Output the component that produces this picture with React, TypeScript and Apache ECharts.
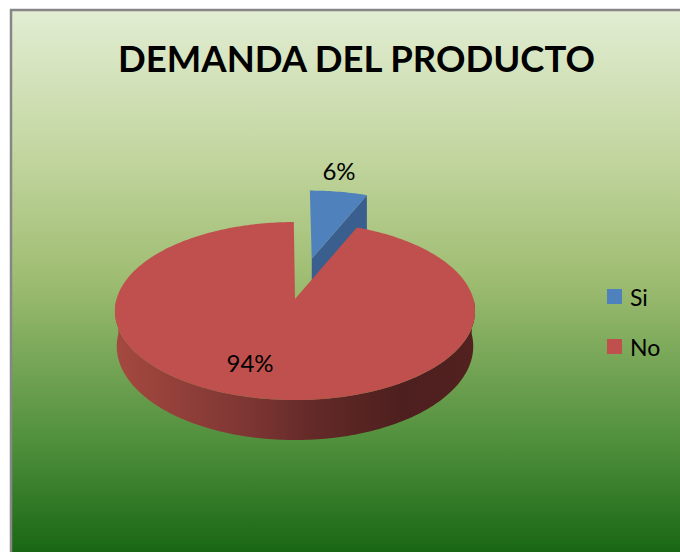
import React, { useEffect, useRef } from "react";
import * as echarts from "echarts";

const titleText = "DEMANDA DEL PRODUCTO";
const categories = ["Si", "No"];
const values = [6, 94];
const topColors = ["#4f81bd", "#c0504d"];
const cutColors = ["#3a5f8e", "#7a3230"];
const explode = [0.5, 0];
const labelAt = [
  [339, 170],
  [250, 362],
];

const CX = 295, CY = 299, RX = 178.4, RY = 87.4, K = 0.135, DEPTH = 40, WARP = 1.07;
const total = values.reduce((a, b) => a + b, 0);
const rad = (d: number) => (d * Math.PI) / 180;
const warp = (d: number) => Math.atan2(WARP * Math.sin(rad(d)), Math.cos(rad(d)));

function project(u: number, v: number) {
  const w = 1 + K * v * -1;
  return { x: CX + (RX * u) / w, y: CY + (RY * v) / w, w };
}
function ringPoint(deg: number, ou: number, ov: number) {
  const t = warp(deg);
  return project(ou + Math.sin(t), ov - Math.cos(t));
}
function drop(p: { x: number; y: number; w: number }) {
  const s = (DEPTH * (1 - K)) / p.w;
  return [CX + (p.x - CX) * 0.99, p.y + s];
}

function renderSlice(index: number) {
  return (_params: any, api: any) => {
    const value = api.value(0);
    let start = 0;
    for (let i = 0; i < index; i++) start += (values[i] / total) * 360;
    const end = start + (value / total) * 360;
    const mid = warp((start + end) / 2);
    const ou = explode[index] * Math.sin(mid);
    const ov = -explode[index] * Math.cos(mid);
    const apex = project(ou, ov);
    const arc: any[] = [];
    for (let a = start; a <= end + 1e-6; a += 1) arc.push(ringPoint(a, ou, ov));
    const top = [[apex.x, apex.y], ...arc.map((p) => [p.x, p.y])];
    const children: any[] = [];

    if (index === 0) {
      const last = arc[arc.length - 1];
      children.push({
        type: "polygon",
        shape: { points: [[apex.x, apex.y], [last.x, last.y], [last.x, last.y + DEPTH], [apex.x, apex.y + DEPTH]] },
        style: { fill: cutColors[index] },
      });
    } else {
      const upper: number[][] = [];
      const lower: number[][] = [];
      for (let a = 90; a <= 270; a += 1) {
        const p = ringPoint(a, ou, ov);
        upper.push([p.x, p.y]);
        lower.unshift(drop(p));
      }
      children.push({
        type: "polygon",
        shape: { points: [...upper, ...lower] },
        style: {
          fill: {
            type: "linear", x: 0, y: 0, x2: 1, y2: 0,
            colorStops: [
              { offset: 0, color: "#a5493f" },
              { offset: 0.38, color: "#7c3533" },
              { offset: 0.55, color: "#632a28" },
              { offset: 0.8, color: "#4d1f1e" },
              { offset: 1, color: "#522120" },
            ],
          },
        },
      });
    }
    children.push({ type: "polygon", shape: { points: top }, style: { fill: topColors[index] } });
    children.push({
      type: "text",
      x: labelAt[index][0],
      y: labelAt[index][1],
      z2: 10,
      style: {
        text: Math.round((value / total) * 100) + "%",
        fill: "#000",
        font: "24px Lato",
        align: "center",
        verticalAlign: "middle",
      },
    });
    return { type: "group", children };
  };
}

export default function App() {
  const ref = useRef<HTMLDivElement>(null);
  useEffect(() => {
    document.body.style.margin = "0";
    const chart = echarts.init(ref.current!, null, { renderer: "svg" });
    chart.setOption({
      animation: false,
      backgroundColor: "#ffffff",
      graphic: [
        {
          type: "rect",
          z: -10,
          shape: { x: 11, y: 10, width: 700, height: 570 },
          style: {
            stroke: "#868686",
            lineWidth: 2.5,
            fill: {
              type: "linear", x: 0, y: 0, x2: 0, y2: 1,
              global: false,
              colorStops: [
                { offset: 0, color: "#e2edd3" },
                { offset: 0.25, color: "#c3d6a0" },
                { offset: 0.47, color: "#9fbd72" },
                { offset: 0.76, color: "#4f8f3c" },
                { offset: 0.95, color: "#196714" },
                { offset: 1, color: "#196714" },
              ],
            },
          },
        },
      ],
      title: {
        text: titleText,
        left: 351.5,
        top: 34,
        textAlign: "center",
        textStyle: { fontFamily: "Lato", fontWeight: "bold", fontSize: 36.5, color: "#000" },
      },
      legend: {
        orient: "vertical",
        left: 602,
        top: 280,
        itemWidth: 15,
        itemHeight: 15,
        itemGap: 27,
        data: categories,
        icon: "rect",
        selectedMode: false,
        textStyle: { fontFamily: "Lato", fontSize: 23, color: "#000", padding: [0, 0, 0, 3] },
      },
      series: categories.map((name, i) => ({
        type: "custom",
        name,
        coordinateSystem: "none",
        silent: true,
        clip: false,
        z: 2 + i,
        itemStyle: { color: topColors[i] },
        renderItem: renderSlice(i),
        data: [[values[i]]],
      })),
    });
    return () => chart.dispose();
  }, []);
  return <div ref={ref} style={{ width: 680, height: 552 }} />;
}
